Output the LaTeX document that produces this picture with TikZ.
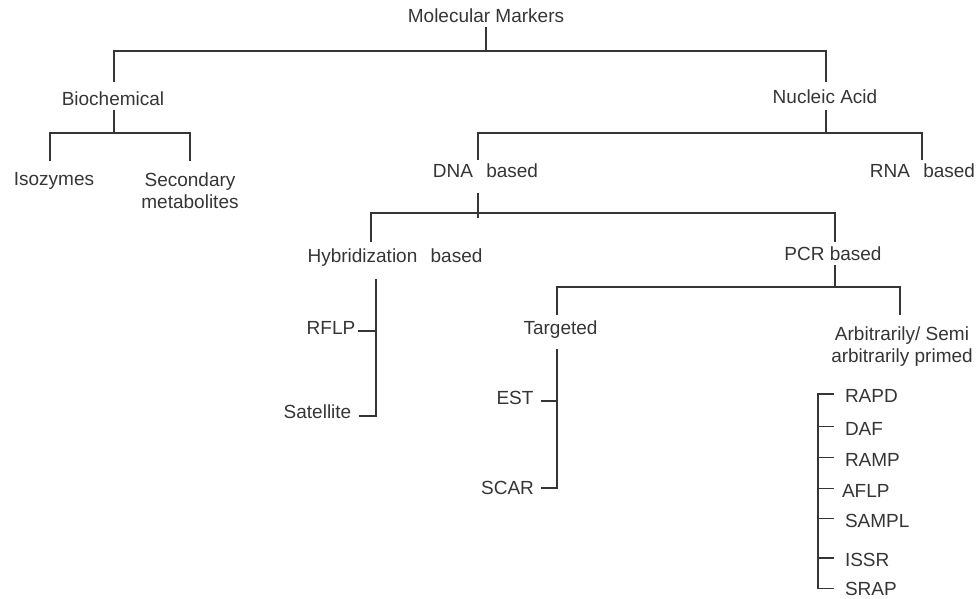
\documentclass[tikz,border=0pt]{standalone}
\usepackage{fontspec}
\setmainfont{Liberation Sans}
\definecolor{txt}{HTML}{353535}
\definecolor{ln}{HTML}{353535}
\begin{document}
\begin{tikzpicture}[x=1pt,y=-1pt,
  lbl/.style={inner sep=0pt, outer sep=0pt, text height=14pt, text depth=0pt,
    anchor=base, text=txt, font=\fontsize{19}{22.5}\selectfont},
  itm/.style={lbl, anchor=base west},
  conn/.style={draw=ln, line width=1.8pt}]
\useasboundingbox (0,0) rectangle (977,598);
% nodes
\node[lbl] (mm)  at (486,22)   {Molecular Markers};
\node[lbl] (bio) at (113,105)  {Biochemical};
\node[lbl] (na)  at (825,103)  {Nucleic Acid};
\node[lbl] (iso) at (54,185)   {Isozymes};
\node[lbl] (sec) at (190,186)  {\begin{tabular}[t]{@{}c@{}}Secondary\\metabolites\end{tabular}};
\node[lbl] (dna) at (485.5,177) {DNA\hspace{8pt} based};
\node[lbl] (rna) at (922.5,177) {RNA\hspace{8pt} based};
\node[lbl] (hyb) at (395,262)  {Hybridization\hspace{8pt} based};
\node[lbl] (pcr) at (833,260)  {PCR based};
\node[lbl] (tgt) at (560.5,334) {Targeted};
\node[lbl] (arb) at (902,340)  {\begin{tabular}[t]{@{}c@{}}Arbitrarily/ Semi\\arbitrarily primed\end{tabular}};
\node[lbl] (rflp) at (331,334) {RFLP};
\node[lbl] (sat) at (317.5,418) {Satellite};
\node[lbl] (est) at (515,404)  {EST};
\node[lbl] (scar) at (507.5,494) {SCAR};
\node[itm] (rapd) at (845,402) {RAPD};
\node[itm] (daf)  at (845,435) {DAF};
\node[itm] (ramp) at (845,466) {RAMP};
\node[itm] (aflp) at (842,497) {AFLP};
\node[itm] (sampl) at (845,527) {SAMPL};
\node[itm] (issr) at (845,566) {ISSR};
\node[itm] (srap) at (845,595.5) {SRAP};
% junctions
\coordinate (j1) at (486,51);
\coordinate (j2) at (114,133);
\coordinate (j3) at (826,133);
\coordinate (j4) at (478,213);
\coordinate (j5) at (835,287);
\coordinate (hx) at ([xshift=-19pt,yshift=-17pt]hyb.south);
\coordinate (tx) at ([xshift=-3.5pt,yshift=-15pt]tgt.south);
% connectors
\draw[conn] ([yshift=-5pt]mm.south) -- (j1);
\draw[conn] ([xshift=1pt,yshift=9pt]bio.north) |- (j1) -| ([xshift=1pt,yshift=7pt]na.north);
\draw[conn] ([xshift=1pt,yshift=-5pt]bio.south) -- (j2);
\draw[conn] ([xshift=-4pt,yshift=10pt]iso.north) |- (j2) -| ([yshift=11pt]sec.north);
\draw[conn] ([xshift=1pt,yshift=-7pt]na.south) -- (j3);
\draw[conn] ([xshift=-7.5pt,yshift=3pt]dna.north) |- (j3) -| ([xshift=-0.5pt,yshift=3pt]rna.north);
\draw[conn] ([xshift=-7.5pt,yshift=-16pt]dna.south) -- ++(0,25);
\draw[conn] ([xshift=-24pt,yshift=6pt]hyb.north) |- (j4) -| ([xshift=2pt,yshift=4pt]pcr.north);
\draw[conn] (hx) |- ([xshift=8pt,yshift=-5pt]sat.east);
\draw[conn] ([xshift=3pt,yshift=-4pt]rflp.east) -| (hx);
\draw[conn] ([xshift=2pt,yshift=-5pt]pcr.south) -- (j5);
\draw[conn] ([xshift=-3.5pt,yshift=5pt]tgt.north) |- (j5) -| ([xshift=-2pt,yshift=11pt]arb.north);
\draw[conn] (tx) |- ([xshift=7pt,yshift=-1pt]scar.east);
\draw[conn] ([xshift=8pt,yshift=-4pt]est.east) -| (tx);
\draw[conn] ([xshift=-11pt,yshift=1pt]rapd.west) -- ++(-16,0) |- ([xshift=-11pt,yshift=0pt]srap.west);
\draw[conn] ([xshift=-11pt,yshift=1.5pt]daf.west) -- ++(-16,0);
\draw[conn] ([xshift=-11pt,yshift=1.5pt]ramp.west) -- ++(-16,0);
\draw[conn] ([xshift=-8pt,yshift=1.5pt]aflp.west) -- ++(-16,0);
\draw[conn] ([xshift=-11pt,yshift=1.5pt]sampl.west) -- ++(-16,0);
\draw[conn] ([xshift=-11pt,yshift=1pt]issr.west) -- ++(-16,0);
\end{tikzpicture}
\end{document}
